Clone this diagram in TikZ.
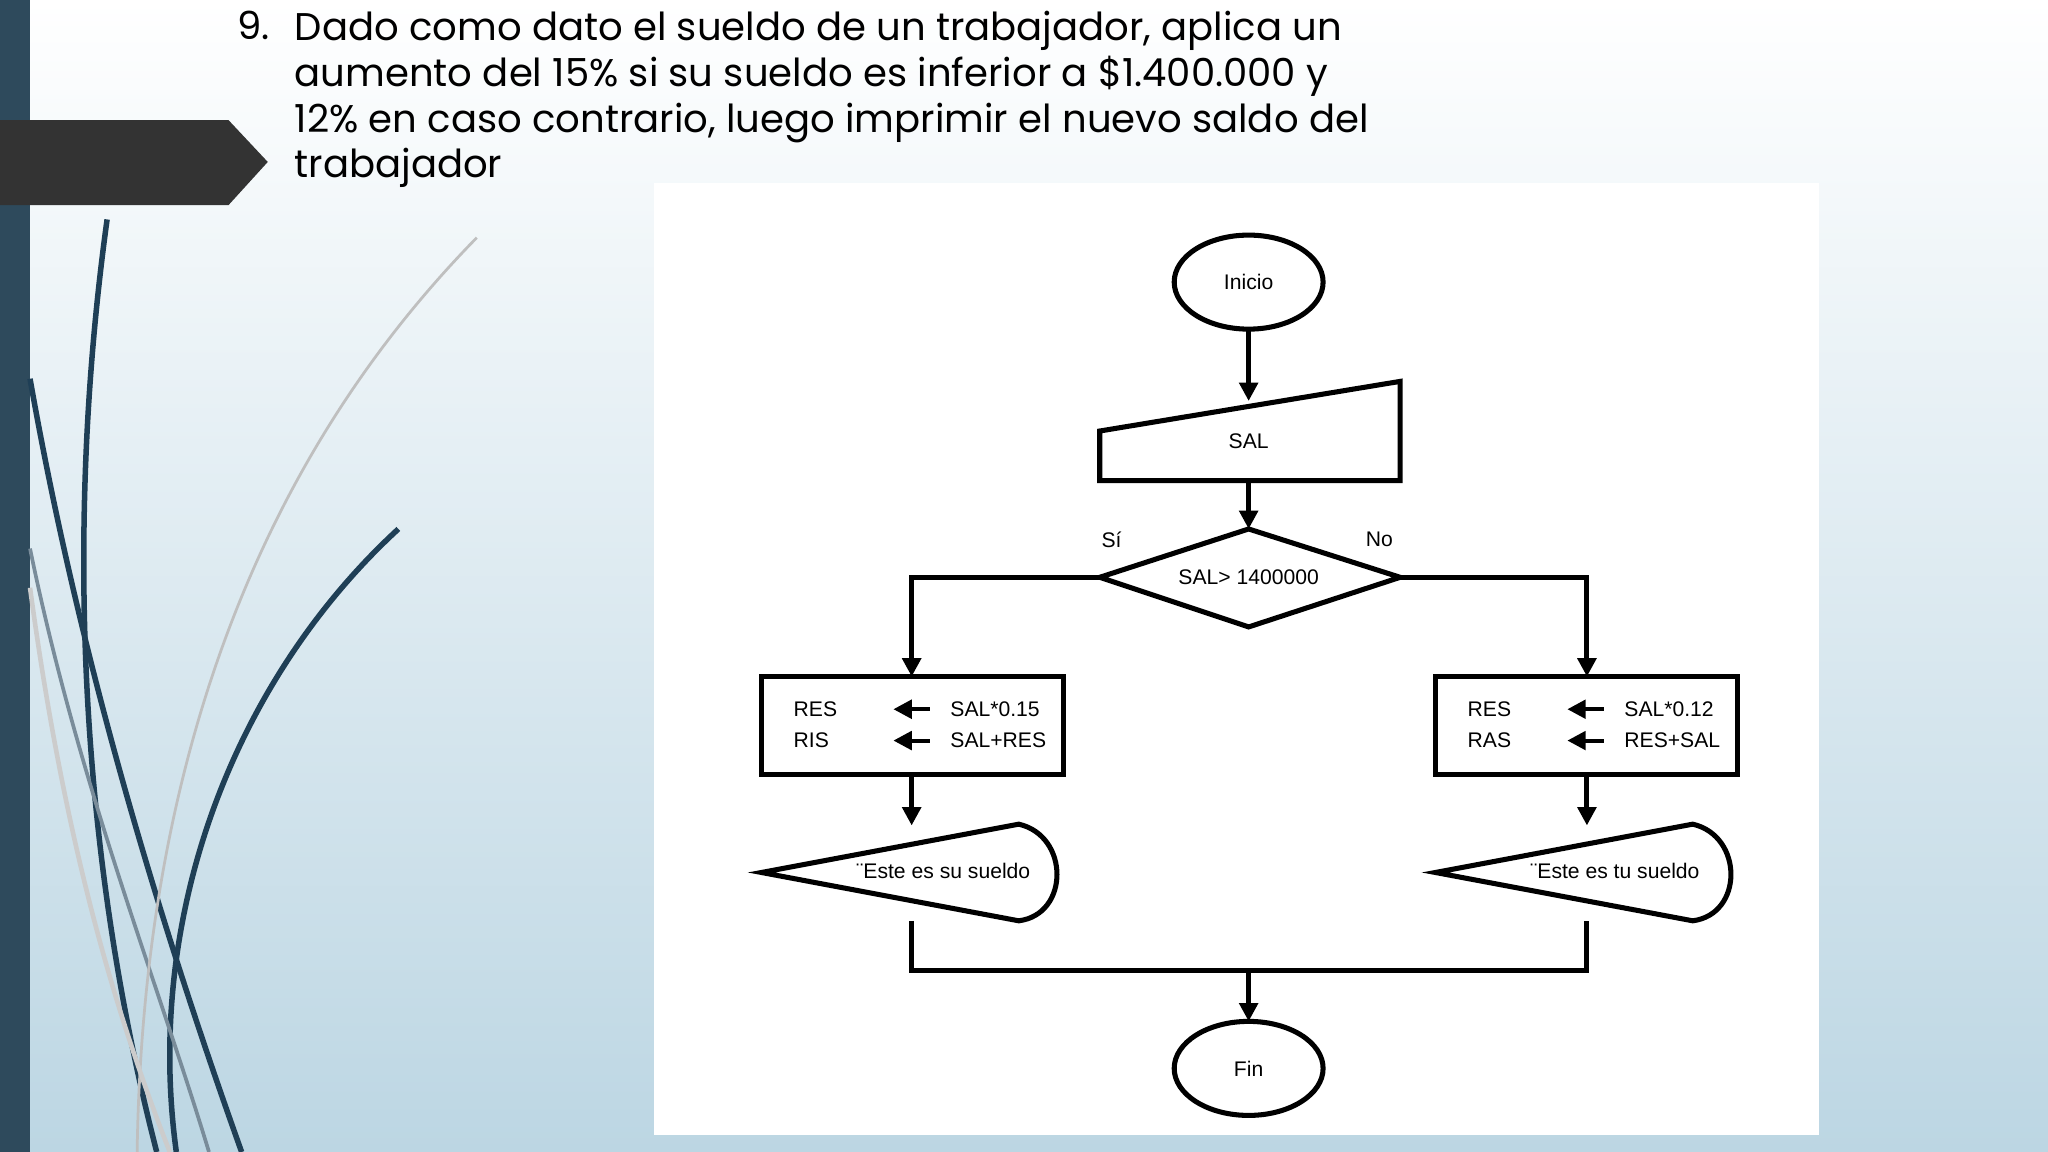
\documentclass[tikz,border=0pt]{standalone}
\usepackage{fontspec}
\setmainfont{Poppins}
\newfontfamily\fcfont{Liberation Sans}
\usetikzlibrary{arrows.meta}
\definecolor{barc}{HTML}{2E4A5C}
\definecolor{bgb}{HTML}{BCD6E3}
\definecolor{tabc}{HTML}{333333}
\definecolor{curv}{HTML}{1F3F56}
\begin{document}
\begin{tikzpicture}[x=0.01cm,y=-0.01cm,
  fc/.style={draw=black,line width=1.1pt},
  arr/.style={-{Triangle[length=4pt,width=4pt]},line width=1.1pt},
  ft/.style={font=\fcfont\fontsize{4.6pt}{5pt}\selectfont,inner sep=0pt}]
\useasboundingbox (0,0) rectangle (1568,882);
\shade[top color=white,bottom color=bgb] (0,0) rectangle (1568,882);
\fill[barc] (0,0) rectangle (23,882);
% decorative curves
\draw[curv,line width=1.2pt] (82,168) .. controls (50,400) and (60,650) .. (120,882);
\draw[curv,line width=1.2pt] (23,290) .. controls (60,500) and (120,700) .. (185,882);
\draw[curv,line width=1.2pt] (305,405) .. controls (180,520) and (110,700) .. (135,882);
\draw[curv!60,line width=0.8pt] (23,420) .. controls (60,600) and (120,750) .. (160,882);
\draw[gray!50,line width=0.6pt] (365,182) .. controls (220,330) and (110,550) .. (105,882);
\draw[gray!40,line width=1pt] (23,450) .. controls (50,650) and (90,780) .. (130,882);
\fill[tabc] (0,92) -- (175,92) -- (205,124) -- (175,157) -- (0,157) -- cycle;
% title
\node[anchor=north west,inner sep=0pt,font=\fontsize{8.4pt}{9.96pt}\selectfont] (num) at (181,8) {9.};
\node[anchor=north west,inner sep=0pt,align=left,font=\fontsize{8.4pt}{9.96pt}\selectfont] (title) at (225,8)
{Dado como dato el sueldo de un trabajador, aplica un\\aumento del 15\% si su sueldo es inferior a \$1.400.000 y\\12\% en caso contrario, luego imprimir el nuevo saldo del\\trabajador};
\fill[white] (501,140) rectangle (1393,869);
% flowchart
\draw[fc] (956,216) ellipse (57 and 36);
\node[ft] (ini) at (956,216) {Inicio};
\coordinate (iniB) at (956,252);
\draw[fc] (842,330) -- (1072,292) -- (1072,368) -- (842,368) -- cycle;
\node[ft] (sal) at (956,338) {SAL};
\coordinate (salT) at (956,307);
\coordinate (salB) at (956,368);
\draw[fc] (842,442) -- (956,405) -- (1072,442) -- (956,480) -- cycle;
\node[ft] (dec) at (956,442) {SAL> 1400000};
\coordinate (decT) at (956,405);
\coordinate (decL) at (842,442);
\coordinate (decR) at (1072,442);
\node[ft] (si) at (851,413) {Sí};
\node[ft] (no) at (1056,413) {No};
\draw[arr] (iniB) -- (salT);
\draw[arr] (salB) -- (decT);
\coordinate (lbT) at (698,518);
\coordinate (rbT) at (1215,518);
\draw[arr] (decL) -| (lbT);
\draw[arr] (decR) -| (rbT);
% boxes
\foreach \bx/\a/\b/\c/\d/\nm in {583/RES/RIS/SAL*0.15/SAL+RES/lb,1099/RES/RAS/SAL*0.12/RES+SAL/rb}{
  \draw[fc] (\bx,518) rectangle ++(231,75);
  \node[ft,anchor=west] (\nm1) at (\bx+24,543) {\a};
  \node[ft,anchor=west] (\nm2) at (\bx+24,567) {\b};
  \draw[arr,line width=0.9pt] (\bx+129,543) -- (\bx+101,543);
  \draw[arr,line width=0.9pt] (\bx+129,567) -- (\bx+101,567);
  \begin{scope}
  \clip (\bx,518) rectangle ++(227,75);
  \node[ft,anchor=west] (\nm3) at (\bx+144,543) {\c};
  \node[ft,anchor=west] (\nm4) at (\bx+144,567) {\d};
  \end{scope}
}
% displays
\foreach \bx/\t/\nm in {583/{¨Este es su sueldo}/ld,1099/{¨Este es tu sueldo}/rd}{
  \draw[fc] (\bx,668) -- (\bx+197,631) .. controls (\bx+236,640) and (\bx+236,700) .. (\bx+197,705) -- cycle;
  \begin{scope}
  \clip (\bx,631) -- (\bx+197,631) .. controls (\bx+236,640) and (\bx+236,700) .. (\bx+197,705) -- (\bx,705) -- cycle;
  \node[ft,anchor=west] (\nm) at (\bx+72,667) {\t};
  \end{scope}
}
\draw[arr] (698,593) -- (698,632);
\draw[arr] (1215,593) -- (1215,632);
\draw[fc] (698,705) -- (698,743) -- (1215,743) -- (1215,705);
\coordinate (jn) at (956,743);
\draw[fc] (956,818) ellipse (57 and 36);
\node[ft] (fin) at (956,818) {Fin};
\draw[arr] (jn) -- (956,782);
\end{tikzpicture}
\end{document}
